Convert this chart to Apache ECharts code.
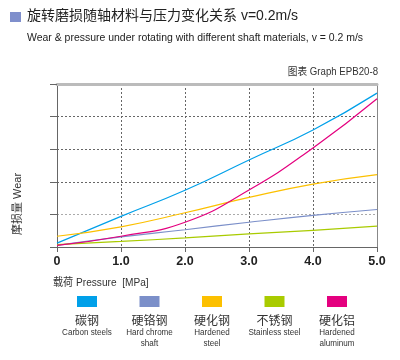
<!DOCTYPE html>
<html><head><meta charset="utf-8">
<script src="https://cdn.jsdelivr.net/npm/echarts@6/dist/echarts.min.js"></script>
<style>html,body{margin:0;padding:0;background:#fff}#c{width:400px;height:360px}</style>
</head><body><div id="c"></div>
<script>
const pressure = [0, 1, 2, 3, 4, 5];
const xTickLabels = ['0', '1.0', '2.0', '3.0', '4.0', '5.0'];
const namesCN = ['碳钢', '硬铬钢', '硬化钢', '不锈钢', '硬化铝'];
const namesEN = ['Carbon steels', 'Hard chrome\nshaft', 'Hardened\nsteel', 'Stainless steel', 'Hardened\naluminum'];
const carbonSteel = [0.12, 0.94, 1.74, 2.67, 3.59, 4.72];
const hardChrome = [0.05, 0.31, 0.53, 0.76, 0.97, 1.15];
const hardenedSteel = [0.33, 0.62, 1.05, 1.52, 1.93, 2.22];
const stainless = [0.07, 0.17, 0.28, 0.40, 0.51, 0.64];
const hardenedAl = [0.05, 0.33, 0.76, 1.75, 3.04, 4.55];
const colors = ['#00a0e9', '#7b8fc9', '#fcc000', '#a9cb00', '#e4007f'];

const seriesVals = [carbonSteel, hardChrome, hardenedSteel, stainless, hardenedAl];
const CN = '"Noto Sans CJK SC", "Liberation Sans", sans-serif';
const LAT = '"Liberation Sans", Arial, "Noto Sans CJK SC", sans-serif';

const chart = echarts.init(document.getElementById('c'), null, {renderer: 'canvas'});

const graphics = [
  {type: 'rect', shape: {x: 10, y: 12, width: 11, height: 10}, style: {fill: '#7f8fcc'}},
  {type: 'text', x: 27, y: 16.5, style: {text: '旋转磨损随轴材料与压力变化关系 v=0.2m/s', font: '14px ' + LAT, fill: '#222', verticalAlign: 'middle'}},
  {type: 'text', x: 27, y: 37.5, scaleX: 0.91, style: {text: 'Wear & pressure under rotating with different shaft materials, v = 0.2 m/s', font: '11.5px ' + LAT, fill: '#222', verticalAlign: 'middle'}},
  {type: 'text', x: 378, y: 72, scaleX: 0.92, style: {text: '图表 Graph EPB20-8', font: '10.5px ' + LAT, fill: '#333', align: 'right', verticalAlign: 'middle'}},
  {type: 'text', x: 18, y: 204, rotation: Math.PI / 2, style: {text: '摩损量 Wear', font: '11px ' + LAT, fill: '#333', align: 'center', verticalAlign: 'middle'}},
  {type: 'text', x: 53, y: 283, scaleX: 0.92, style: {text: '载荷 Pressure  [MPa]', font: '11px ' + LAT, fill: '#333', verticalAlign: 'middle'}}
];
namesCN.forEach((n, i) => {
  const cx = 87 + i * 62.5;
  graphics.push({type: 'rect', shape: {x: cx - 10, y: 296, width: 20, height: 11}, style: {fill: colors[i]}});
  graphics.push({type: 'text', x: cx, y: 320, style: {text: n, font: '12px ' + CN, fill: '#333', align: 'center', verticalAlign: 'middle'}});
  graphics.push({type: 'text', x: cx, y: 327, scaleX: 0.85, style: {text: namesEN[i], font: '9.5px ' + LAT, fill: '#333', align: 'center', verticalAlign: 'top', lineHeight: 11}});
});

chart.setOption({
  animation: false,
  grid: {left: 57, right: 23, top: 84, bottom: 113},
  xAxis: [{
    type: 'value', min: 0, max: 5, interval: 1,
    axisLine: {lineStyle: {color: '#666', width: 1}},
    axisTick: {show: true, length: 5, lineStyle: {color: '#666'}},
    axisLabel: {formatter: v => xTickLabels[pressure.indexOf(v)], fontWeight: 'bold', fontSize: 12.5, color: '#222', margin: 8, fontFamily: LAT},
    splitLine: {show: true, lineStyle: {color: '#666', type: [2, 2], width: 1}}
  }, {
    type: 'value', min: 0, max: 5, interval: 1, position: 'top',
    axisLine: {show: true, onZero: false, lineStyle: {color: '#bbb', width: 3}},
    axisTick: {show: false}, axisLabel: {show: false}, splitLine: {show: false}
  }],
  yAxis: [{
    type: 'value', min: 0, max: 5, interval: 1,
    axisLine: {show: true, lineStyle: {color: '#666', width: 1}},
    axisTick: {show: true, length: 7, lineStyle: {color: '#666'}},
    axisLabel: {show: false},
    splitLine: {show: true, lineStyle: {color: ['#666', '#aaa', '#666', '#666', '#666', '#bbb'], type: [2, 2], width: 1}}
  }, {
    type: 'value', min: 0, max: 5, interval: 1, position: 'right',
    axisLine: {show: true, onZero: false, lineStyle: {color: '#888', width: 1}},
    axisTick: {show: false}, axisLabel: {show: false}, splitLine: {show: false}
  }],
  series: seriesVals.map((vals, i) => ({
    type: 'line', name: namesCN[i], smooth: true, symbol: 'none',
    data: pressure.map((p, j) => [p, vals[j]]),
    lineStyle: {color: colors[i], width: 1.2}
  })),
  graphic: graphics
});
</script></body></html>
